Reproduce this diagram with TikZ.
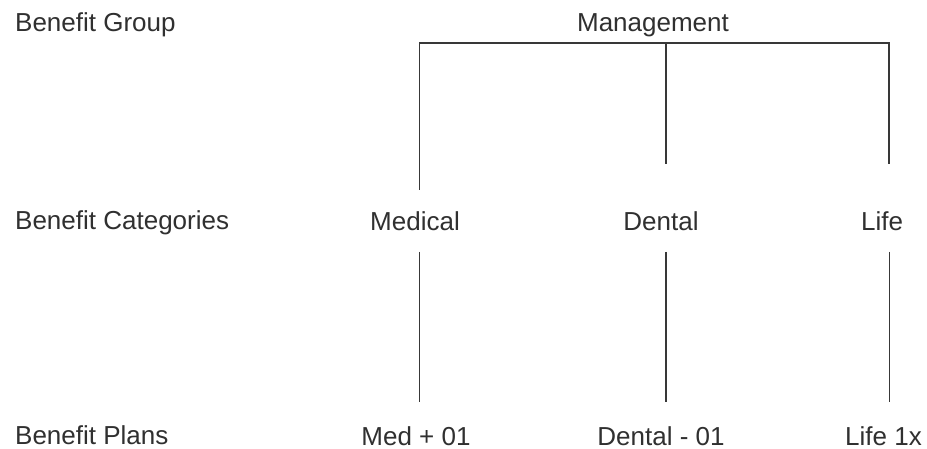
\documentclass[tikz,border=0pt]{standalone}
\usepackage{fontspec}
\setmainfont{Liberation Sans}
\definecolor{txt}{HTML}{303030}
\definecolor{ln}{HTML}{383838}
\begin{document}
\begin{tikzpicture}[x=1pt,y=-1pt,
  lbl/.style={anchor=base,inner sep=0pt,text=txt,font=\fontsize{26}{30}\selectfont},
  rowlbl/.style={lbl,anchor=base west},
  conn/.style={draw=ln,line width=1.9pt,line cap=butt}]
\useasboundingbox[fill=white] (0,0) rectangle (927,449);
% row labels
\node[rowlbl] (rg) at (15,32) {Benefit Group};
\node[rowlbl] (rc) at (15,230) {Benefit Categories};
\node[rowlbl] (rp) at (15,444) {Benefit Plans};
% tree labels
\node[lbl] (mgmt) at (653,32) {Management};
\node[lbl] (med) at (415,231) {Medical};
\node[lbl] (den) at (661,231) {Dental};
\node[lbl] (life) at (882,231) {Life};
\node[lbl] (med1) at (416,445) {Med + 01};
\node[lbl] (den1) at (661,445) {Dental - 01};
\node[lbl] (life1) at (883.5,445) {Life 1x};
% connector points
\coordinate (bL) at (419.5,42.7);
\coordinate (bM) at (666,42.7);
\coordinate (bR) at (889,42.7);
\coordinate (dL) at (419.5,190);
\coordinate (dM) at (666,164.5);
\coordinate (dR) at (889,164.5);
\coordinate (uL) at (419.5,252);
\coordinate (uM) at (666,252);
\coordinate (uR) at (889.5,252);
\coordinate (eL) at (419.5,402);
\coordinate (eM) at (666,402);
\coordinate (eR) at (889.5,402);
% connectors
\draw[conn,line join=miter] (dL) -- (bL) -- (bR) -- (dR);
\draw[conn] (bM) -- (dM);
\draw[conn] (uL) -- (eL);
\draw[conn] (uM) -- (eM);
\draw[conn] (uR) -- (eR);
\end{tikzpicture}
\end{document}
